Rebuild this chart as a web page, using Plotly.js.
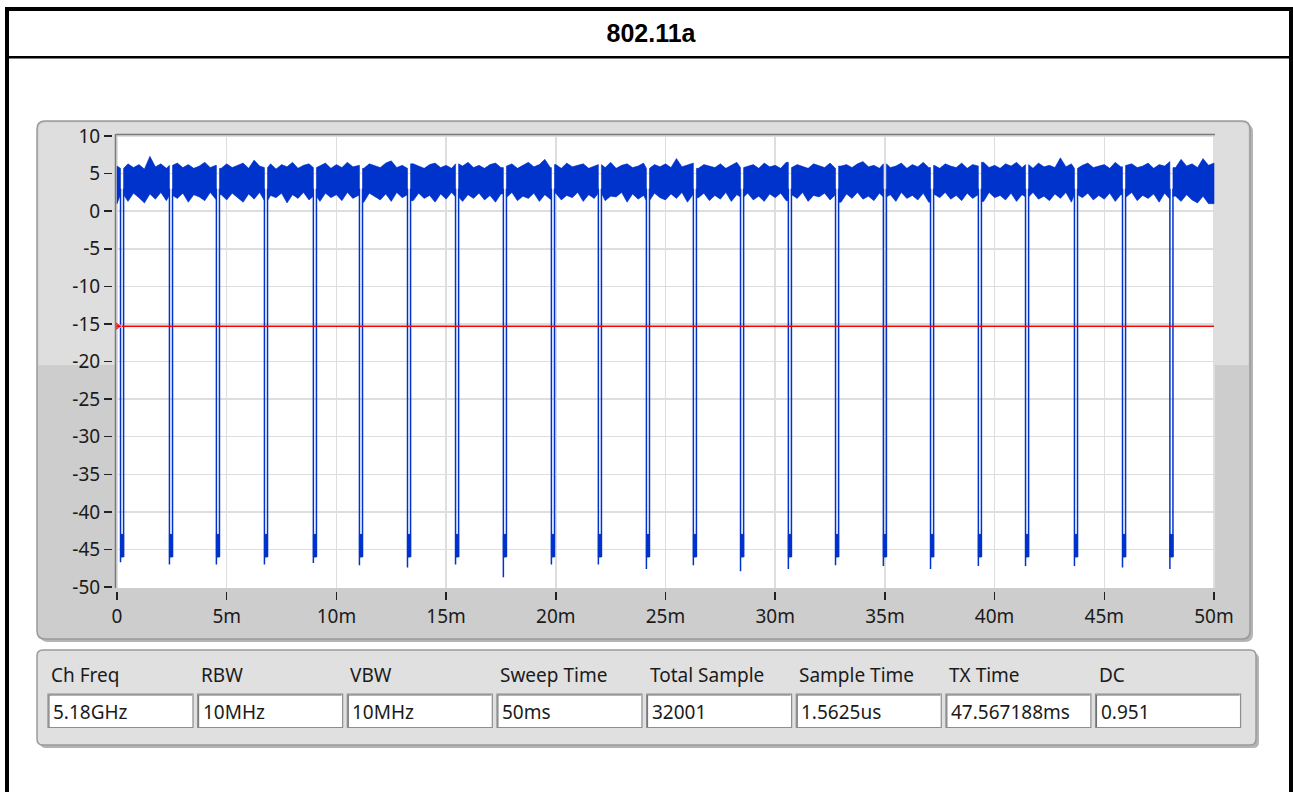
<!DOCTYPE html>
<html>
<head>
<meta charset="utf-8">
<script src="https://cdn.plot.ly/plotly-3.0.1.min.js"></script>
<style>
  html, body { margin: 0; padding: 0; background: #ffffff; }
  #chart { width: 1293px; height: 792px; }
</style>
</head>
<body>
<div id="chart"></div>
<script>
// ---------------- DATA ----------------
const titleText = '802.11a';

// envelope of the transmitted power trace, read every 0.25 ms (ms)
const envTime = [
  0,0.25,0.5,0.75,1,1.25,1.5,1.75,2,2.25,2.5,2.75,3,3.25,3.5,3.75,4,4.25,4.5,4.75,
  5,5.25,5.5,5.75,6,6.25,6.5,6.75,7,7.25,7.5,7.75,8,8.25,8.5,8.75,9,9.25,9.5,9.75,
  10,10.25,10.5,10.75,11,11.25,11.5,11.75,12,12.25,12.5,12.75,13,13.25,13.5,13.75,14,14.25,14.5,14.75,
  15,15.25,15.5,15.75,16,16.25,16.5,16.75,17,17.25,17.5,17.75,18,18.25,18.5,18.75,19,19.25,19.5,19.75,
  20,20.25,20.5,20.75,21,21.25,21.5,21.75,22,22.25,22.5,22.75,23,23.25,23.5,23.75,24,24.25,24.5,24.75,
  25,25.25,25.5,25.75,26,26.25,26.5,26.75,27,27.25,27.5,27.75,28,28.25,28.5,28.75,29,29.25,29.5,29.75,
  30,30.25,30.5,30.75,31,31.25,31.5,31.75,32,32.25,32.5,32.75,33,33.25,33.5,33.75,34,34.25,34.5,34.75,
  35,35.25,35.5,35.75,36,36.25,36.5,36.75,37,37.25,37.5,37.75,38,38.25,38.5,38.75,39,39.25,39.5,39.75,
  40,40.25,40.5,40.75,41,41.25,41.5,41.75,42,42.25,42.5,42.75,43,43.25,43.5,43.75,44,44.25,44.5,44.75,
  45,45.25,45.5,45.75,46,46.25,46.5,46.75,47,47.25,47.5,47.75,48,48.25,48.5,48.75,49,49.25,49.5,49.75,
  50];
// upper edge of the noisy "on" band (dB)
const envUpper = [
  6.0,5.7,6.3,5.8,6.2,5.6,7.3,5.9,6.3,5.7,6.1,6.4,5.8,6.2,5.7,6.0,6.5,5.8,6.1,5.7,
  6.3,5.8,6.1,6.4,5.7,6.8,6.0,5.8,6.3,5.6,6.2,5.9,6.5,5.7,6.1,6.3,5.8,6.0,6.4,5.7,
  6.2,5.8,6.5,5.9,6.1,5.7,6.3,6.0,5.8,6.4,6.7,5.8,6.1,5.7,6.3,6.0,5.7,6.2,6.4,5.8,
  6.1,5.7,6.3,6.0,6.5,5.8,6.1,5.7,6.2,6.4,5.8,6.0,6.3,5.7,6.1,6.5,5.9,6.2,6.9,5.8,
  6.2,5.7,6.4,5.9,6.1,6.3,5.7,6.0,6.2,5.8,6.5,5.7,6.1,6.3,5.8,6.0,6.4,5.7,6.2,5.9,
  6.3,5.8,7.0,5.9,6.1,6.4,5.7,6.2,6.0,5.8,6.3,5.7,6.1,6.5,5.8,6.0,6.2,5.7,6.4,5.9,
  6.1,5.7,6.5,5.8,6.2,6.0,5.7,6.3,6.1,5.8,6.4,5.7,6.0,6.2,5.8,6.3,6.6,5.9,6.1,5.7,
  6.3,5.8,6.0,6.4,5.7,6.2,5.9,6.5,5.8,6.1,5.7,6.3,6.0,5.8,6.4,5.7,6.2,6.0,6.5,5.8,
  6.1,5.7,6.3,6.0,6.5,5.8,6.2,5.7,6.4,5.9,6.1,5.8,7.1,5.9,6.3,5.7,6.1,6.4,5.8,6.0,
  6.2,5.7,6.5,5.9,6.1,6.3,5.8,6.0,6.4,5.7,6.2,6.0,6.6,5.8,6.9,6.0,6.3,5.8,7.0,6.1,
  6.4];
// lower edge of the noisy "on" band (dB)
const envLower = [
  1.0,2.2,1.3,2.4,1.8,1.1,2.3,1.6,2.5,1.4,2.1,1.7,2.4,1.2,2.2,1.9,1.4,2.5,1.6,2.2,
  1.5,2.4,1.8,1.2,2.3,1.6,2.5,1.4,2.1,1.8,2.4,1.1,2.2,1.7,2.5,1.5,2.0,1.3,2.4,1.8,
  2.2,1.4,2.5,1.7,2.1,1.2,2.4,1.9,1.5,2.3,1.3,2.5,1.8,2.2,1.4,2.4,1.7,2.1,1.2,2.3,
  1.6,2.5,1.9,1.3,2.2,1.7,2.4,1.5,2.1,1.2,2.3,1.8,2.5,1.4,2.0,1.7,2.4,1.3,2.2,1.6,
  2.4,1.5,2.1,1.8,2.5,1.3,2.2,1.7,2.4,1.4,2.0,1.9,2.5,1.2,2.3,1.6,2.1,1.4,2.4,1.8,
  1.5,2.3,1.7,2.5,1.2,2.2,1.8,2.4,1.4,2.1,1.6,2.5,1.3,2.2,1.9,2.4,1.5,2.0,1.3,2.3,
  1.8,2.4,1.4,2.2,1.7,2.5,1.3,2.1,1.9,2.4,1.5,2.2,1.2,2.3,1.7,2.5,1.6,2.0,1.4,2.4,
  1.9,2.2,1.3,2.5,1.7,2.1,1.5,2.4,1.2,2.3,1.8,2.5,1.6,2.1,1.4,2.4,1.7,2.2,1.3,2.5,
  1.8,2.1,1.5,2.4,1.3,2.2,1.9,2.5,1.6,2.0,1.4,2.3,1.7,2.5,1.2,2.2,1.8,2.4,1.5,2.1,
  1.6,2.4,1.3,2.2,1.9,2.5,1.4,2.1,1.7,2.3,1.2,2.4,1.6,2.0,1.3,2.2,1.5,1.1,2.0,1.0,
  1.0];

// "off" gaps between bursts: centre time (ms), width (ms), deepest value (dB)
const gapCenter = [0.23,2.46,4.60,6.79,9.02,11.12,13.31,15.50,17.68,19.87,22.01,24.20,
  26.34,28.49,30.67,32.82,35.00,37.15,39.33,41.48,43.71,45.90,48.06];
const gapWidth = 0.14;
const dipMin = [-46.7,-47.0,-47.0,-47.0,-46.8,-47.1,-47.4,-47.0,-48.7,-47.0,-47.0,-47.6,
  -47.1,-47.9,-47.6,-47.1,-47.2,-47.6,-47.2,-47.2,-47.2,-47.4,-47.6];
const floorTop = -43.0;
const floorBottom = -46.0;
const offStartLevel = 3.0;

// threshold line (dB) and time span (ms)
const thresholdLevel = -15.3;
const timeSpan = [0, 50];

// axis ticks
const xTickVals = [0,5,10,15,20,25,30,35,40,45,50];
const xTickText = ['0','5m','10m','15m','20m','25m','30m','35m','40m','45m','50m'];
const yTickVals = [10,5,0,-5,-10,-15,-20,-25,-30,-35,-40,-45,-50];
const yTickText = ['10','5','0','-5','-10','-15','-20','-25','-30','-35','-40','-45','-50'];

// measurement summary
const infoLabels = ['Ch Freq','RBW','VBW','Sweep Time','Total Sample','Sample Time','TX Time','DC'];
const infoValues = ['5.18GHz','10MHz','10MHz','50ms','32001','1.5625us','47.567188ms','0.951'];

// ---------------- BUILD TRACES ----------------
function nearest(t) {
  let best = 0, bd = Infinity;
  for (let i = 0; i < envTime.length; i++) {
    const d = Math.abs(envTime[i] - t);
    if (d < bd) { bd = d; best = i; }
  }
  return best;
}
const segs = [];
let segStart = timeSpan[0];
gapCenter.forEach(c => {
  segs.push([segStart, c - gapWidth / 2]);
  segStart = c + gapWidth / 2;
});
segs.push([segStart, timeSpan[1]]);

const bandX = [], bandY = [];
segs.forEach(([a, b]) => {
  const inner = [];
  envTime.forEach((t, i) => { if (t > a && t < b) inner.push(i); });
  const ia = nearest(a), ib = nearest(b);
  bandX.push(a); bandY.push(envUpper[ia]);
  inner.forEach(i => { bandX.push(envTime[i]); bandY.push(envUpper[i]); });
  bandX.push(b); bandY.push(envUpper[ib]);
  bandX.push(b); bandY.push(envLower[ib]);
  inner.slice().reverse().forEach(i => { bandX.push(envTime[i]); bandY.push(envLower[i]); });
  bandX.push(a); bandY.push(envLower[ia]);
  bandX.push(a); bandY.push(envUpper[ia]);
  bandX.push(null); bandY.push(null);
});

const dipX = [], dipY = [];
const floorX = [], floorY = [];
gapCenter.forEach((c, i) => {
  const s = c - gapWidth / 2, e = c + gapWidth / 2;
  dipX.push(s, s, null, e, e, null);
  dipY.push(offStartLevel, dipMin[i], null, offStartLevel, floorBottom, null);
  floorX.push(s, e, e, s, s, null);
  floorY.push(floorTop, floorTop, floorBottom, floorBottom, floorTop, null);
});

const BLUE = '#0033CC';
const FONT = 'Noto Sans, Open Sans, DejaVu Sans, sans-serif';
const TXT = '#1b1b1b';

const traces = [
  { type: 'scatter', mode: 'lines', x: bandX, y: bandY, fill: 'toself', fillcolor: BLUE,
    line: { color: BLUE, width: 0.6 }, xaxis: 'x', yaxis: 'y', hoverinfo: 'skip' },
  { type: 'scatter', mode: 'lines', x: floorX, y: floorY, fill: 'toself', fillcolor: BLUE,
    line: { color: BLUE, width: 1 }, xaxis: 'x', yaxis: 'y', hoverinfo: 'skip' },
  { type: 'scatter', mode: 'lines', x: dipX, y: dipY, connectgaps: false,
    line: { color: BLUE, width: 1.5 }, xaxis: 'x', yaxis: 'y', hoverinfo: 'skip' },
  { type: 'scatter', mode: 'lines+markers', x: timeSpan, y: [thresholdLevel, thresholdLevel],
    line: { color: '#ff0000', width: 1.6 },
    marker: { symbol: 'triangle-right', size: [10, 0], color: '#ff0000' },
    xaxis: 'x2', yaxis: 'y2', hoverinfo: 'skip' }
];

// ---------------- LAYOUT ----------------
const W = 1293, H = 792;
const L = 112, R = 1215, T = 134, B = 591;   // margin box (px)
const X = p => (p - L) / (R - L);
const Y = p => (B - p) / (B - T);
const xr = [-0.046, 50.046], yr = [-50.13, 10.27];

function rrect(x0, y0, x1, y1, r) {
  return 'M' + X(x0 + r) + ',' + Y(y0) + ' L' + X(x1 - r) + ',' + Y(y0) +
    ' Q' + X(x1) + ',' + Y(y0) + ' ' + X(x1) + ',' + Y(y0 + r) +
    ' L' + X(x1) + ',' + Y(y1 - r) +
    ' Q' + X(x1) + ',' + Y(y1) + ' ' + X(x1 - r) + ',' + Y(y1) +
    ' L' + X(x0 + r) + ',' + Y(y1) +
    ' Q' + X(x0) + ',' + Y(y1) + ' ' + X(x0) + ',' + Y(y1 - r) +
    ' L' + X(x0) + ',' + Y(y0 + r) +
    ' Q' + X(x0) + ',' + Y(y0) + ' ' + X(x0 + r) + ',' + Y(y0) + ' Z';
}
function topRound(x0, y0, x1, y1, r) {
  return 'M' + X(x0) + ',' + Y(y1) + ' L' + X(x0) + ',' + Y(y0 + r) +
    ' Q' + X(x0) + ',' + Y(y0) + ' ' + X(x0 + r) + ',' + Y(y0) +
    ' L' + X(x1 - r) + ',' + Y(y0) +
    ' Q' + X(x1) + ',' + Y(y0) + ' ' + X(x1) + ',' + Y(y0 + r) +
    ' L' + X(x1) + ',' + Y(y1) + ' Z';
}
function rect(x0, y0, x1, y1, fill, lineColor, lw, layer) {
  return { type: 'rect', xref: 'paper', yref: 'paper', x0: X(x0), x1: X(x1), y0: Y(y1), y1: Y(y0),
    fillcolor: fill, line: { color: lineColor || fill, width: lw || 0 }, layer: layer || 'below' };
}
function pathShape(path, fill, lineColor, lw, layer) {
  return { type: 'path', xref: 'paper', yref: 'paper', path: path, fillcolor: fill,
    line: { color: lineColor || fill, width: lw || 0 }, layer: layer || 'below' };
}
function line(x0, y0, x1, y1, color, lw, layer) {
  return { type: 'line', xref: 'paper', yref: 'paper', x0: X(x0), x1: X(x1), y0: Y(y0), y1: Y(y1),
    line: { color: color, width: lw }, layer: layer || 'below' };
}

const shapes = [
  // graph panel
  pathShape(rrect(40, 124, 1253, 642, 8), '#b4b4b4', '#b4b4b4', 0),
  pathShape(rrect(37, 121, 1250, 639, 8), '#cdcdcd', '#9a9a9a', 1.5),
  pathShape(topRound(38.5, 122.5, 1248.5, 365, 7), '#dedede', '#dedede', 0),
  rect(116, 134, 1215, 588, '#ffffff', '#ffffff', 0),
  line(116, 134.5, 1215, 134.5, '#7a7a7a', 1.5, 'above'),
  line(115.5, 134, 115.5, 588, '#7a7a7a', 1.5, 'above'),
  // info panel
  pathShape(rrect(40, 653, 1259, 748, 6), '#b4b4b4', '#b4b4b4', 0),
  pathShape(rrect(37, 650, 1256, 745, 6), '#e0e0e0', '#9a9a9a', 1.5),
  // outer black frame
  rect(5, 7, 9, 792, '#000000', '#000000', 0, 'above'),
  rect(5, 7, 1293, 11, '#000000', '#000000', 0, 'above'),
  rect(1289, 7, 1293, 792, '#000000', '#000000', 0, 'above'),
  rect(5, 56, 1293, 58.5, '#000000', '#000000', 0, 'above')
];

const annotations = [];
const boxStep = 149.65;
infoLabels.forEach((lab, i) => {
  const bx = 48 + i * boxStep;
  shapes.push(rect(bx, 694, bx + 145, 727.5, '#ffffff', '#8e8e8e', 1.2));
  shapes.push(line(bx + 1, 695, bx + 144, 695, '#6a6a6a', 1));
  shapes.push(line(bx + 1, 695, bx + 1, 727, '#6a6a6a', 1));
  annotations.push({ xref: 'paper', yref: 'paper', x: X(bx + 1), y: Y(675), xanchor: 'left', yanchor: 'middle',
    text: lab, showarrow: false, font: { family: FONT, size: 19, color: TXT } });
  annotations.push({ xref: 'paper', yref: 'paper', x: X(bx + 3), y: Y(712), xanchor: 'left', yanchor: 'middle',
    text: infoValues[i], showarrow: false, font: { family: FONT, size: 19, color: TXT } });
});

const layout = {
  width: W, height: H,
  margin: { l: L, r: W - R, t: T, b: H - B, pad: 0 },
  paper_bgcolor: '#ffffff',
  plot_bgcolor: '#ffffff',
  showlegend: false,
  hovermode: false,
  title: { text: '<b>' + titleText + '</b>', xref: 'container', yref: 'container',
    x: 651 / W, xanchor: 'center', y: 1 - 33 / H, yanchor: 'middle',
    font: { family: 'Liberation Sans, Arial, sans-serif', size: 25, color: '#000000' } },
  xaxis: { domain: [(116 - L) / (R - L), 1], range: xr, tickvals: xTickVals, showticklabels: false,
    ticks: '', showgrid: true, gridcolor: '#dedede', gridwidth: 1.5, zeroline: false, showline: false,
    fixedrange: true },
  yaxis: { domain: [(B - 588) / (B - T), 1], range: yr, tickvals: yTickVals, showticklabels: false,
    ticks: '', showgrid: true, gridcolor: '#dedede', gridwidth: 1.5, zeroline: false, showline: false,
    fixedrange: true },
  xaxis2: { overlaying: 'x', anchor: 'free', position: 0, side: 'bottom', range: xr,
    tickvals: xTickVals, ticktext: xTickText, ticks: 'outside', ticklen: 8, tickwidth: 1.5,
    tickcolor: '#222222', showgrid: false, zeroline: false, showline: false,
    tickfont: { family: FONT, size: 19, color: TXT }, fixedrange: true },
  yaxis2: { overlaying: 'y', anchor: 'free', position: 0, side: 'left', range: yr,
    tickvals: yTickVals, ticktext: yTickText, ticks: 'outside', ticklen: 8, tickwidth: 1.5,
    tickcolor: '#222222', showgrid: false, zeroline: false, showline: false,
    tickfont: { family: FONT, size: 19, color: TXT }, fixedrange: true },
  shapes: shapes,
  annotations: annotations
};

Plotly.newPlot('chart', traces, layout, { displayModeBar: false, staticPlot: true });
</script>
</body>
</html>
